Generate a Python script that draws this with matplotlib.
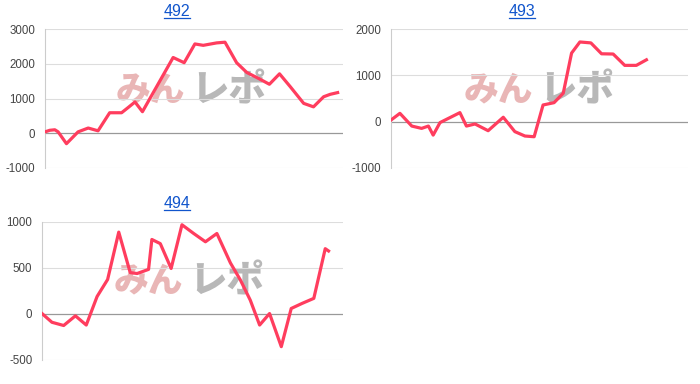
import matplotlib
matplotlib.use("Agg")
import matplotlib.pyplot as plt
from matplotlib.lines import Line2D

plt.rcParams['font.family'] = ['Liberation Sans', 'DejaVu Sans']

# ---- data ----
titles = ["492", "493", "494"]

x_492 = [0, 1.6, 3.3, 4.4, 7.2, 11.1, 14.5, 17.8, 21.7, 25.7, 27.9, 30.2, 32.7, 43.0, 46.7,
         50.3, 53.1, 57.6, 60.4, 64.3, 67.7, 71.6, 75.3, 78.7, 82.3, 86.8, 90.1, 93.5, 95.7, 98.2]
y_492 = [40, 85, 100, 40, -300, 40, 150, 70, 590, 590, 740, 900, 620, 2180, 2030,
         2570, 2530, 2600, 2620, 2030, 1750, 1580, 1410, 1710, 1340, 860, 760, 1050, 1120, 1170]

x_493 = [0, 3.0, 7.0, 10.3, 12.6, 14.2, 16.5, 19.3, 23.2, 25.4, 28.3, 32.7, 37.8, 41.7, 45.1,
         48.2, 51.2, 54.9, 58.0, 60.8, 63.6, 67.3, 70.9, 74.8, 78.7, 82.6, 86.0]
y_493 = [35, 180, -95, -145, -95, -290, -20, 70, 195, -95, -50, -195, 95, -215, -310,
         -325, 360, 410, 615, 1480, 1720, 1700, 1465, 1460, 1215, 1215, 1335]

x_494 = [0, 3.3, 7.2, 11.1, 14.7, 18.3, 21.8, 25.5, 29.3, 31.6, 35.4, 36.5, 39.3, 42.9, 46.5,
         50.4, 54.3, 58.1, 62.6, 65.9, 69.2, 72.3, 75.6, 79.5, 82.8, 86.4, 90.3, 94.1, 95.2]
y_494 = [5, -90, -125, -20, -120, 190, 375, 890, 450, 440, 485, 810, 765, 495, 970,
         875, 785, 875, 555, 370, 150, -120, 5, -355, 60, 115, 170, 710, 685]

yticks_492 = [-1000, 0, 1000, 2000, 3000]
yticks_493 = [-1000, 0, 1000, 2000]
yticks_494 = [-500, 0, 500, 1000]

W, H = 700, 384
fig = plt.figure(figsize=(W / 100, H / 100), dpi=100)

LINE = '#ff3d5e'
GRID = '#dddddd'
ZERO = '#999999'
TICK = '#444444'
TITLE = '#1155cc'


def rect(left, right, top, bottom):
    return [left / W, (H - bottom) / H, (right - left) / W, (bottom - top) / H]


panels = [
    (titles[0], x_492, y_492, yticks_492, rect(45, 343, 29, 168), 177, 11, 0.47, 0.56),
    (titles[1], x_493, y_493, yticks_493, rect(391, 688, 29, 168), 522, 11, 0.48, 0.56),
    (titles[2], x_494, y_494, yticks_494, rect(42, 343, 222, 360), 177, 203, 0.47, 0.57),
]

title_texts = []
for title, xs, ys, yt, r, tx, ty, wx, wy in panels:
    ax = fig.add_axes(r)
    ax.set_xlim(0, 100)
    ax.set_ylim(yt[0], yt[-1])
    ax.set_yticks(yt)
    ax.set_yticklabels([str(v) for v in yt])
    ax.set_xticks([])
    ax.tick_params(axis='y', length=0, pad=7, labelsize=8.3, labelcolor=TICK)
    for s in ['top', 'right', 'bottom']:
        ax.spines[s].set_visible(False)
    ax.spines['left'].set_color('#cccccc')
    ax.spines['left'].set_linewidth(0.8)
    for v in yt:
        ax.axhline(v, color=ZERO if v == 0 else GRID, lw=0.9 if v == 0 else 0.8, zorder=1)
    # watermark
    ax.text(wx, wy, "みん", transform=ax.transAxes, ha='right', va='center',
            fontsize=25, fontweight='black', style='italic', color='#e9b6b6',
            family=['Noto Sans CJK JP', 'DejaVu Sans'], zorder=0)
    ax.text(wx + 0.02, wy, "レポ", transform=ax.transAxes, ha='left', va='center',
            fontsize=27, fontweight='black', style='italic', color='#b8b8b8',
            family=['Noto Sans CJK JP', 'DejaVu Sans'], zorder=0)
    ax.plot(xs, ys, color=LINE, lw=2.3, solid_joinstyle='round', zorder=3)
    t = fig.text(tx / W, 1 - ty / H, title, ha='center', va='center', fontsize=11.5, color=TITLE)
    title_texts.append(t)

fig.canvas.draw()
renderer = fig.canvas.get_renderer()
for t in title_texts:
    bb = t.get_window_extent(renderer)
    yline = bb.y0 + 1.0
    fig.add_artist(Line2D([bb.x0 / W, bb.x1 / W], [yline / H, yline / H],
                          transform=fig.transFigure, color=TITLE, lw=0.9))

fig.savefig("out.png", dpi=100)
